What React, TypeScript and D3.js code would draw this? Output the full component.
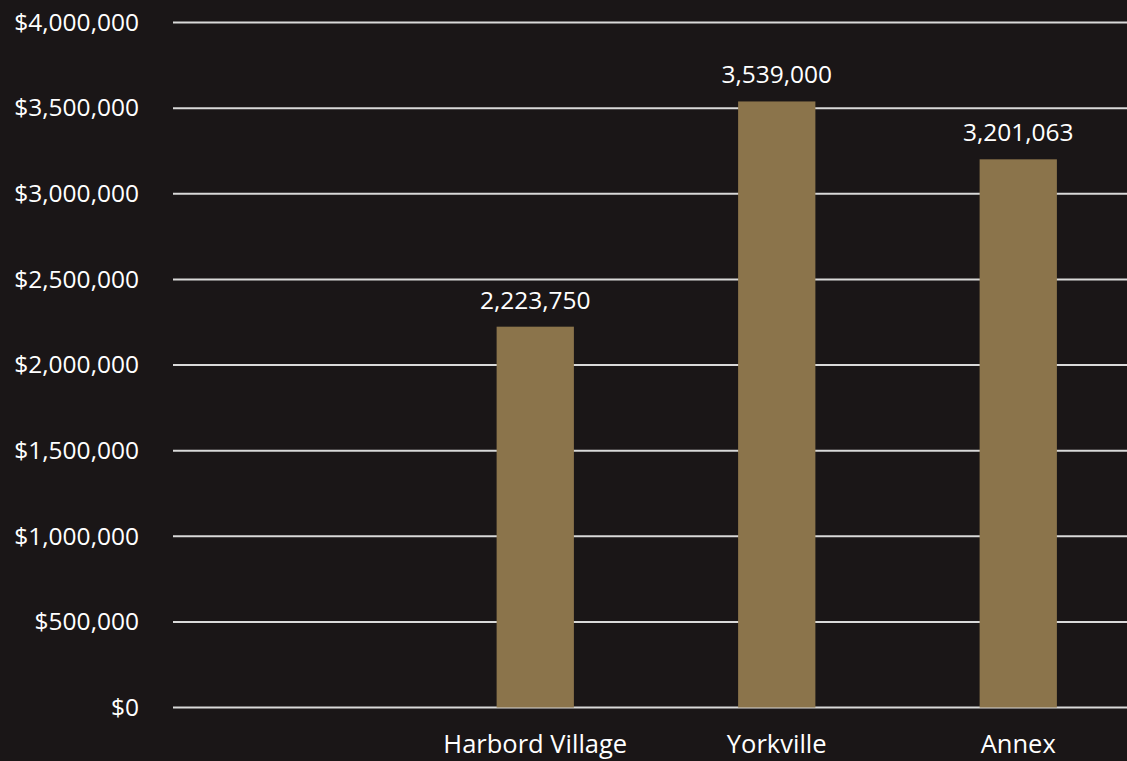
import * as d3 from "d3";
import {useEffect, useRef} from "react";

const categories = ["", "Harbord Village", "Yorkville", "Annex"];
const prices: (number | null)[] = [null, 2223750, 3539000, 3201063];
const yTicks = [0, 500000, 1000000, 1500000, 2000000, 2500000, 3000000, 3500000, 4000000];

const width = 1127;
const height = 761;
const marginLeft = 173;
const plotRight = 1139;
const marginTop = 22.5;
const baseline = 707.5;
const font = "Open Sans, Noto Sans, sans-serif";

const App = () => {
  const gy = useRef<SVGGElement | null>(null);

  const x = d3
    .scaleBand()
    .domain(categories)
    .range([marginLeft, plotRight])
    .paddingInner(0.68)
    .paddingOuter(0.34);

  const y = d3.scaleLinear().domain([0, 4000000]).range([baseline, marginTop]);

  const money = d3.format("$,.0f");
  const comma = d3.format(",");

  useEffect(() => {
    if (gy.current) {
      const axis = d3
        .axisLeft(y)
        .tickValues(yTicks)
        .tickFormat((d) => money(d as number))
        .tickSize(0)
        .tickPadding(0);
      const g = d3.select(gy.current).call(axis);
      g.select(".domain").remove();
      g.selectAll("text")
        .attr("x", 139 - marginLeft)
        .attr("dy", "0.32em")
        .attr("fill", "#ffffff")
        .style("font-family", font)
        .style("font-size", "24.5px");
    }
  }, [y]);

  const bw = x.bandwidth();

  return (
    <svg
      width={width}
      height={height}
      style={{position: "absolute", left: 0, top: 0, background: "#1a1617"}}
    >
      <rect width={width} height={height} fill="#1a1617" />
      {yTicks.map((t) => (
        <line
          key={t}
          x1={marginLeft}
          x2={plotRight}
          y1={y(t)}
          y2={y(t)}
          stroke="#d9d9d9"
          strokeWidth={2}
        />
      ))}
      {categories.map((c, i) => {
        const v = prices[i];
        if (v == null) return null;
        const x0 = x(c) as number;
        return (
          <g key={c}>
            <rect x={x0} y={y(v)} width={bw} height={y(0) - y(v)} fill="#8b744b" />
            <text
              x={x0 + bw / 2}
              y={y(v) - 18}
              textAnchor="middle"
              fill="#ffffff"
              fontFamily={font}
              fontSize={24.5}
            >
              {comma(v)}
            </text>
          </g>
        );
      })}
      {categories.map((c) =>
        c ? (
          <text
            key={"l" + c}
            x={(x(c) as number) + bw / 2}
            y={753}
            textAnchor="middle"
            fill="#ffffff"
            fontFamily={font}
            fontSize={25.5}
          >
            {c}
          </text>
        ) : null
      )}
      <g ref={gy} transform={`translate(${marginLeft},0)`} />
    </svg>
  );
};

export default App;
